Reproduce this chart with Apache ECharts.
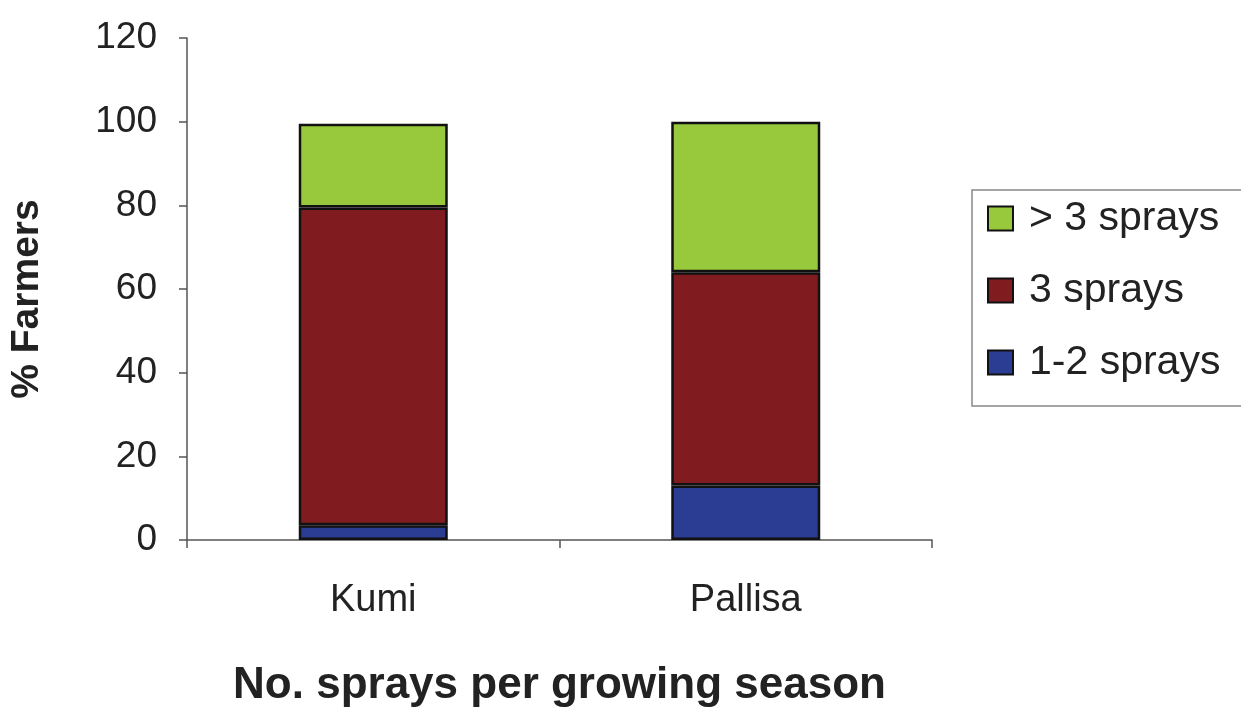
<!DOCTYPE html>
<html>
<head>
<meta charset="utf-8">
<script src="https://cdn.jsdelivr.net/npm/echarts@6/dist/echarts.min.js"></script>
<style>
  html, body { margin: 0; padding: 0; background: #fff; }
  #chart { width: 1241px; height: 713px; }
</style>
</head>
<body>
<div id="chart"></div>
<script type="text/javascript">

var districts = ['Kumi', 'Pallisa'];
var oneTwoSprays = [3.5, 13];
var threeSprays = [76, 51];
var moreThanThree = [20, 36];
var yTicks = [0, 20, 40, 60, 80, 100, 120];

var chart = echarts.init(document.getElementById('chart'));

var barBorder = {
	borderColor: '#111',
	borderWidth: 2.5
};

var option = {
	backgroundColor: '#fff',
	animation: false,
	textStyle: {
		fontFamily: 'Liberation Sans, Arial, sans-serif'
	},
	grid: {
		left: 184,
		right: 309,
		top: 38,
		bottom: 167
	},
	legend: {
		orient: 'vertical',
		left: 972,
		top: 190,
		padding: [8, 40, 23, 15],
		itemGap: 31,
		itemWidth: 25,
		itemHeight: 24,
		borderColor: '#888',
		borderWidth: 1.5,
		icon: 'rect',
		// top to bottom: >3, 3, 1-2
		data: ['> 3 sprays', '3 sprays', '1-2 sprays'],
		textStyle: {
			fontSize: 41,
			lineHeight: 40,
			color: '#222',
			padding: [0, 0, 0, 11]
		}
	},
	xAxis: {
		type: 'category',
		data: districts,
		name: 'No. sprays per growing season',
		nameLocation: 'middle',
		nameGap: 124,
		nameTextStyle: {
			fontSize: 44,
			fontWeight: 'bold',
			color: '#222'
		},
		axisLine: { lineStyle: { color: '#555', width: 1.5 } },
		axisTick: { show: true, length: 8, lineStyle: { color: '#555', width: 1.5 } },
		axisLabel: {
			fontSize: 38,
			color: '#222',
			margin: 42
		}
	},
	yAxis: {
		type: 'value',
		min: yTicks[0],
		max: yTicks[yTicks.length - 1],
		interval: 20,
		name: '% Farmers',
		nameLocation: 'middle',
		nameGap: 140,
		nameRotate: 90,
		nameTextStyle: {
			fontSize: 39,
			fontWeight: 'bold',
			color: '#222',
			padding: [0, 0, 0, -20]
		},
		splitLine: { show: false },
		axisLine: { show: true, lineStyle: { color: '#555', width: 1.5 } },
		axisTick: { show: true, length: 8, lineStyle: { color: '#555', width: 1.5 } },
		axisLabel: {
			fontSize: 37,
			color: '#222',
			margin: 30
		}
	},
	series: [
		{
			name: '1-2 sprays',
			type: 'bar',
			stack: 'total',
			barWidth: '40%',
			data: oneTwoSprays,
			itemStyle: Object.assign({ color: '#2b3d92' }, barBorder)
		},
		{
			name: '3 sprays',
			type: 'bar',
			stack: 'total',
			data: threeSprays,
			itemStyle: Object.assign({ color: '#801c1f' }, barBorder)
		},
		{
			name: '> 3 sprays',
			type: 'bar',
			stack: 'total',
			data: moreThanThree,
			itemStyle: Object.assign({ color: '#98c83b' }, barBorder)
		}
	]
};

chart.setOption(option);
</script>
</body>
</html>
